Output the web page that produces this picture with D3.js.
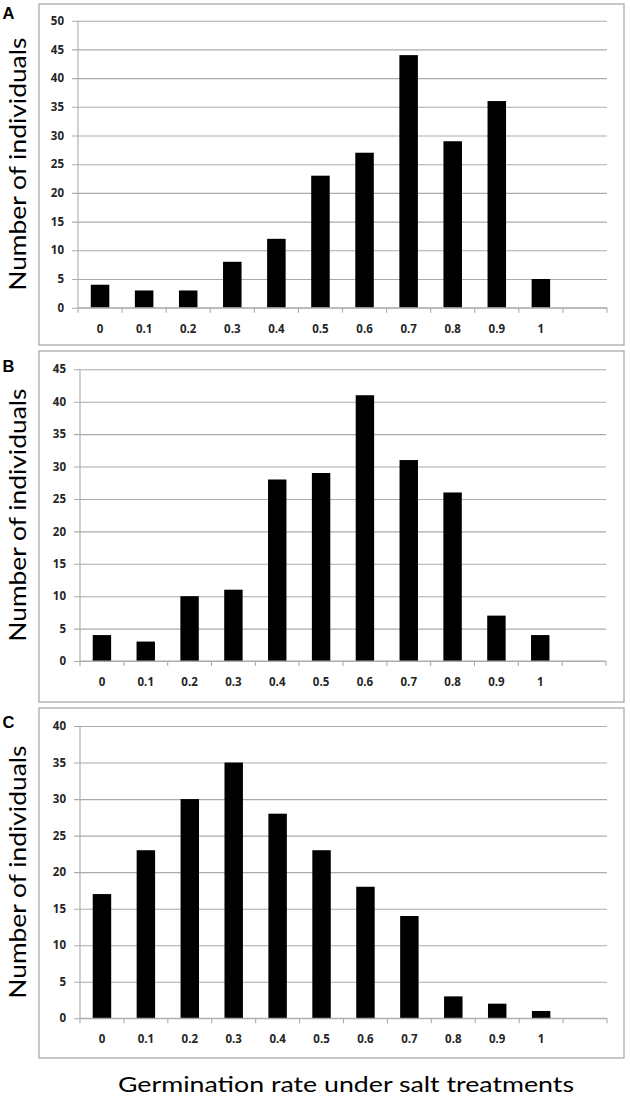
<!DOCTYPE html>
<html>
<head>
<meta charset="utf-8">
<script src="https://cdn.jsdelivr.net/npm/d3@7"></script>
<style>
  html, body { margin: 0; padding: 0; background: #fff; }
  svg { display: block; }
</style>
</head>
<body>
<svg id="chart" width="630" height="1097"></svg>
<script>
// ---- data ----
const categories = ["0", "0.1", "0.2", "0.3", "0.4", "0.5", "0.6", "0.7", "0.8", "0.9", "1", ""];
const valuesA = [4, 3, 3, 8, 12, 23, 27, 44, 29, 36, 5];
const valuesB = [4, 3, 10, 11, 28, 29, 41, 31, 26, 7, 4];
const valuesC = [17, 23, 30, 35, 28, 23, 18, 14, 3, 2, 1];
const yMaxes = [50, 45, 40];
const panelLetters = ["A", "B", "C"];
const yTicks = step => max => d3.range(0, max + 0.001, step);
const yAxisTitle = "Number of individuals";
const xAxisTitle = "Germination rate under salt treatments";

// ---- layout ----
const svg = d3.select("#chart");
const panels = [
  { values: valuesA, box: [39, 4, 624, 345], plot: [78, 20.7, 607, 307.7], letterY: 19 },
  { values: valuesB, box: [39, 351, 624, 702], plot: [80, 369.3, 606, 661], letterY: 371.7 },
  { values: valuesC, box: [39, 708, 624, 1058], plot: [80, 726, 607, 1018.3], letterY: 728.3 }
];
const gridColor = "#ababab";
const tickFont = "'Open Sans', sans-serif";

panels.forEach((p, i) => {
  const [bx0, by0, bx1, by1] = p.box;
  const [px0, py0, px1, py1] = p.plot;
  const g = svg.append("g");

  g.append("rect")
    .attr("x", bx0).attr("y", by0)
    .attr("width", bx1 - bx0).attr("height", by1 - by0)
    .attr("fill", "none").attr("stroke", "#a9a9a9").attr("stroke-width", 1.3);

  const x = d3.scaleBand().domain(categories).range([px0, px1]).paddingInner(0).paddingOuter(0);
  const y = d3.scaleLinear().domain([0, yMaxes[i]]).range([py1, py0]);

  // gridlines + y axis
  const yAxis = d3.axisLeft(y).tickValues(yTicks(5)(yMaxes[i])).tickSize(-(px1 - px0)).tickPadding(9);
  const ya = g.append("g").attr("transform", `translate(${px0},0)`).call(yAxis);
  ya.select(".domain").remove();
  ya.selectAll(".tick line").attr("stroke", gridColor).attr("stroke-width", 1.1).attr("x1", -6);
  ya.selectAll(".tick text")
    .attr("x", -14)
    .attr("font-family", tickFont).attr("font-weight", 700)
    .attr("font-size", 11.5).attr("fill", "#262626");

  // vertical axis line
  g.append("line")
    .attr("x1", px0).attr("x2", px0).attr("y1", py0).attr("y2", py1)
    .attr("stroke", gridColor).attr("stroke-width", 1.1);

  // bars
  const barW = x.bandwidth() * 0.42;
  g.selectAll("rect.bar").data(p.values).join("rect")
    .attr("class", "bar")
    .attr("x", (d, j) => x(categories[j]) + (x.bandwidth() - barW) / 2)
    .attr("y", d => y(d))
    .attr("width", barW)
    .attr("height", d => y(0) - y(d))
    .attr("fill", "#000");

  // x axis
  const xa = g.append("g").attr("transform", `translate(0,${py1})`);
  xa.append("line").attr("x1", px0).attr("x2", px1).attr("y1", 0).attr("y2", 0)
    .attr("stroke", gridColor).attr("stroke-width", 1.1);
  const bounds = categories.map(c => x(c)).concat([px1]);
  xa.selectAll("line.tk").data(bounds).join("line")
    .attr("class", "tk")
    .attr("x1", d => d).attr("x2", d => d).attr("y1", 0).attr("y2", 5)
    .attr("stroke", gridColor).attr("stroke-width", 1.1);
  xa.selectAll("text").data(categories).join("text")
    .attr("x", d => x(d) + x.bandwidth() / 2)
    .attr("y", 25)
    .attr("text-anchor", "middle")
    .attr("font-family", tickFont).attr("font-weight", 700)
    .attr("font-size", 11.5).attr("fill", "#262626")
    .text(d => d);

  // panel letter
  svg.append("text")
    .attr("x", 2.5).attr("y", p.letterY)
    .attr("font-family", "'Liberation Sans', Arial, sans-serif")
    .attr("font-weight", "bold").attr("font-size", 16.5)
    .attr("fill", "#000")
    .text(panelLetters[i]);

  // y axis title
  const cy = (py0 + py1) / 2;
  svg.append("text")
    .attr("transform", `translate(25.5,${cy}) rotate(-90)`)
    .attr("text-anchor", "middle")
    .attr("font-family", "Lato, 'Open Sans', sans-serif")
    .attr("font-size", 23.5).attr("fill", "#000")
    .attr("textLength", 253).attr("lengthAdjust", "spacingAndGlyphs")
    .text(yAxisTitle);
});

svg.append("text")
  .attr("x", 346).attr("y", 1091.5)
  .attr("text-anchor", "middle")
  .attr("font-family", "Lato, 'Open Sans', sans-serif")
  .attr("font-size", 22).attr("fill", "#000")
  .attr("textLength", 456).attr("lengthAdjust", "spacingAndGlyphs")
  .text(xAxisTitle);
</script>
</body>
</html>
